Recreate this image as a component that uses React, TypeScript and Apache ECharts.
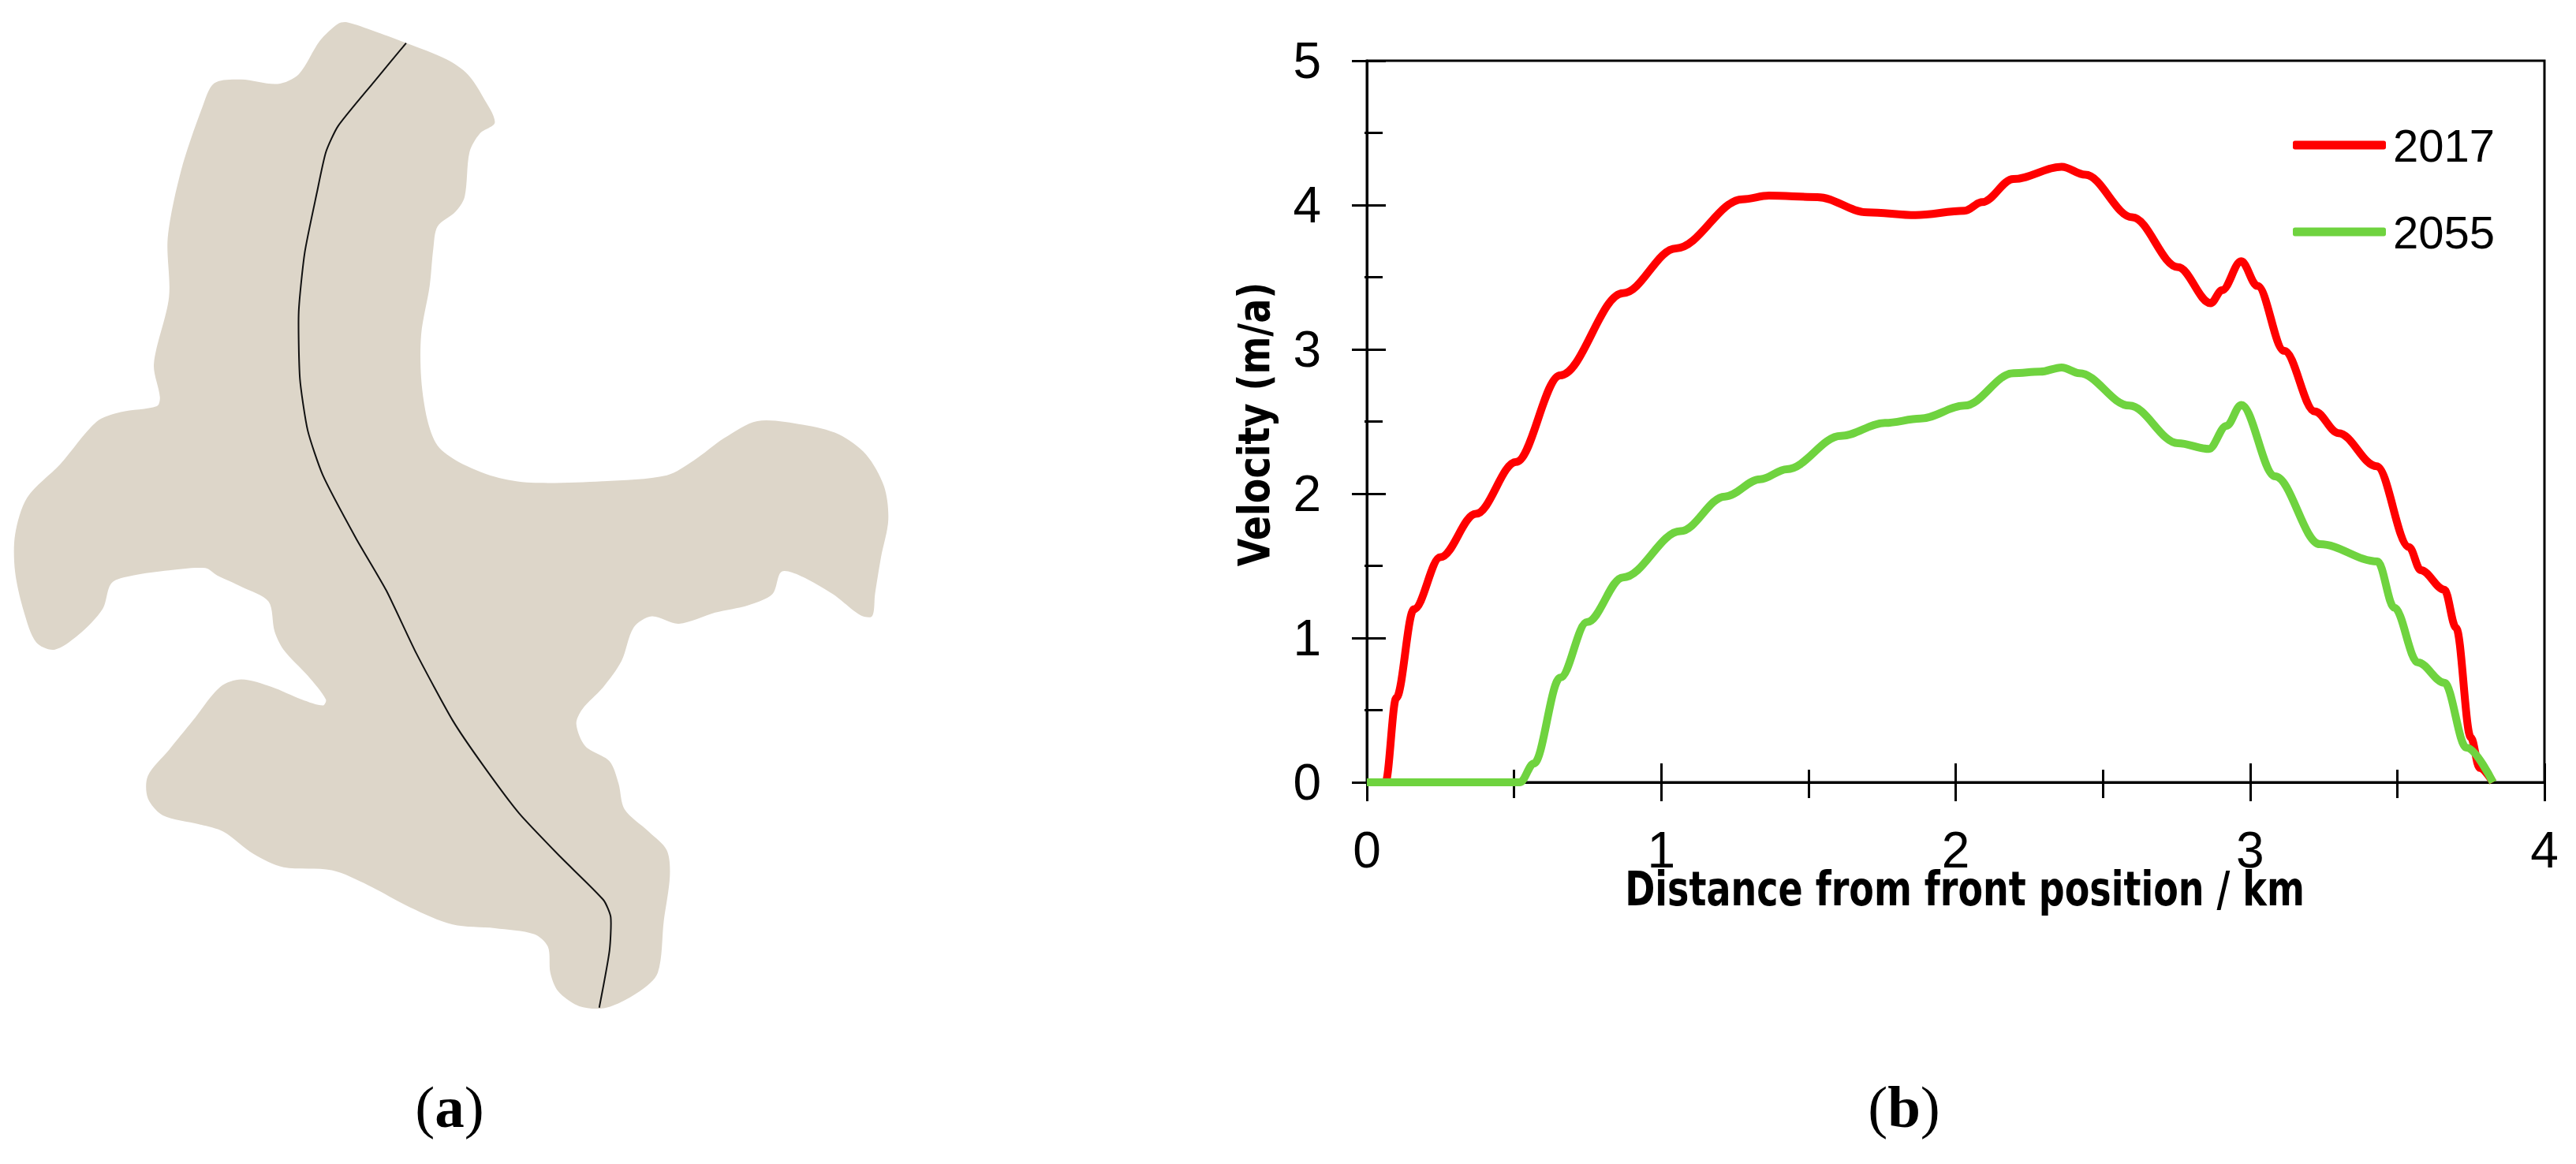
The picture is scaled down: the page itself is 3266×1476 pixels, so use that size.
import React, { useEffect, useRef } from "react";
import * as echarts from "echarts";

const years = ["2017", "2055"];
const distance2017 = [0, 0.063, 0.1, 0.16, 0.25, 0.37, 0.507, 0.657, 0.87, 1.05, 1.276, 1.366, 1.53, 1.7, 1.864, 2.03, 2.09, 2.196, 2.36, 2.44, 2.6, 2.755, 2.866, 2.905, 2.97, 3.025, 3.116, 3.22, 3.3, 3.43, 3.54, 3.58, 3.66, 3.7, 3.75, 3.78, 3.825];
const velocity2017 = [0, 0, 0.586, 1.2, 1.56, 1.86, 2.22, 2.82, 3.39, 3.7, 4.04, 4.065, 4.055, 3.95, 3.93, 3.96, 4.02, 4.18, 4.265, 4.21, 3.915, 3.57, 3.32, 3.41, 3.61, 3.44, 2.99, 2.57, 2.42, 2.19, 1.63, 1.47, 1.335, 1.07, 0.31, 0.1, 0];
const distance2055 = [0, 0.52, 0.567, 0.657, 0.748, 0.87, 1.065, 1.216, 1.336, 1.427, 1.61, 1.76, 1.88, 2.03, 2.196, 2.287, 2.36, 2.42, 2.59, 2.755, 2.86, 2.92, 2.97, 3.085, 3.237, 3.433, 3.49, 3.57, 3.66, 3.735, 3.825];
const velocity2055 = [0, 0, 0.13, 0.725, 1.11, 1.42, 1.74, 1.98, 2.1, 2.17, 2.4, 2.49, 2.52, 2.61, 2.835, 2.845, 2.875, 2.835, 2.61, 2.35, 2.31, 2.47, 2.615, 2.12, 1.65, 1.53, 1.21, 0.83, 0.69, 0.24, 0];

const xTitle = "Distance from front position / km";
const yTitle = "Velocity (m/a)";

// Panel (a) illustration outline, in zoomed-crop units
const outline = [[575,30],[620,42],[673,58],[740,80],[775,100],[800,130],[820,165],[795,180],[778,205],[770,265],[755,285],[725,305],[718,335],[712,385],[698,450],[698,510],[708,565],[725,600],[760,622],[820,642],[880,650],[1000,648],[1105,640],[1150,620],[1200,590],[1255,567],[1330,572],[1390,585],[1435,612],[1465,655],[1472,700],[1460,750],[1450,800],[1445,830],[1425,828],[1380,800],[1325,775],[1295,770],[1280,800],[1240,815],[1185,825],[1125,840],[1080,830],[1050,845],[1030,890],[1000,925],[965,955],[955,975],[970,1005],[1010,1025],[1025,1055],[1035,1090],[1075,1120],[1105,1145],[1110,1180],[1100,1240],[1090,1310],[1060,1335],[1005,1357],[960,1355],[925,1335],[912,1310],[908,1275],[885,1258],[820,1250],[750,1245],[680,1222],[610,1192],[550,1172],[470,1168],[420,1150],[370,1120],[330,1110],[270,1098],[245,1075],[245,1045],[280,1010],[320,970],[365,925],[400,915],[450,925],[500,942],[535,950],[540,942],[510,910],[470,875],[455,850],[445,810],[400,790],[360,775],[340,765],[280,768],[220,775],[185,785],[170,820],[130,855],[90,875],[60,865],[40,825],[25,770],[25,720],[45,670],[100,625],[160,568],[200,555],[260,547],[265,535],[255,490],[280,400],[278,320],[300,230],[335,145],[355,112],[400,107],[460,113],[495,100],[530,55],[560,32]];
const centerLine = [[673,58],[620,110],[560,170],[540,205],[525,260],[505,340],[495,420],[497,510],[510,580],[535,640],[590,725],[640,795],[690,880],[750,970],[800,1030],[860,1095],[930,1155],[1000,1212],[1012,1235],[1010,1280],[993,1357]];

const zip = (a: number[], b: number[]) => a.map((v, i) => [v, b[i]]);
const toPage = (p: number[][]) => p.map(([x, y]) => [x / 1.307, y / 1.062]);

const GRID = { left: 1733, top: 77, width: 1493, height: 915 };
const narrow = "'Liberation Sans Narrow', 'Liberation Sans', sans-serif";
const axisBase = { type: "value" as const, splitLine: { show: false } };

export default function App() {
  const ref = useRef<HTMLDivElement>(null);
  useEffect(() => {
    document.body.style.margin = "0";
    document.body.style.background = "#fff";
    const chart = echarts.init(ref.current!, undefined, { renderer: "svg" });
    const line = { color: "#000", width: 3 };
    chart.setOption({
      animation: false,
      backgroundColor: "#fff",
      grid: [
        { ...GRID, show: true, borderColor: "#000", borderWidth: 3, backgroundColor: "transparent" },
        { ...GRID },
      ],
      xAxis: [
        {
          ...axisBase, gridIndex: 0, min: 0, max: 4, interval: 1,
          axisLine: { show: true, onZero: false, lineStyle: line },
          axisTick: { show: true, length: 24, lineStyle: line },
          minorTick: { show: true, splitNumber: 2, length: 20, lineStyle: line },
          axisLabel: { show: true, margin: 54, fontFamily: narrow, fontSize: 64, color: "#000", showMinLabel: true, showMaxLabel: true },
        },
        {
          ...axisBase, gridIndex: 1, min: 0, max: 4, interval: 1, position: "bottom",
          axisLine: { show: false, onZero: false },
          axisTick: { show: true, inside: true, length: 24, lineStyle: line },
          minorTick: { show: true, splitNumber: 2, length: 16, lineStyle: line },
          axisLabel: { show: false },
        },
      ],
      yAxis: [
        {
          ...axisBase, gridIndex: 0, min: 0, max: 5, interval: 1,
          axisLine: { show: true, onZero: false, lineStyle: line },
          axisTick: { show: true, length: 19, lineStyle: line },
          minorTick: { show: true, splitNumber: 2, length: 3, lineStyle: line },
          axisLabel: { show: true, margin: 58, fontFamily: narrow, fontSize: 64, color: "#000", showMinLabel: true, showMaxLabel: true },
        },
        {
          ...axisBase, gridIndex: 1, min: 0, max: 5, interval: 1, position: "left",
          axisLine: { show: false, onZero: false },
          axisTick: { show: true, inside: true, length: 24, lineStyle: line },
          minorTick: { show: true, splitNumber: 2, length: 20, lineStyle: line },
          axisLabel: { show: false },
        },
      ],
      legend: {
        show: true,
        orient: "vertical",
        left: 2902,
        top: 150,
        itemWidth: 118,
        itemHeight: 11,
        itemGap: 52,
        icon: "roundRect",
        data: years,
        textStyle: { fontFamily: narrow, fontSize: 58, color: "#000", padding: [0, 0, 0, 4] },
      },
      series: [
        {
          name: years[0], type: "line", xAxisIndex: 0, yAxisIndex: 0, data: zip(distance2017, velocity2017),
          smooth: 0.35, smoothMonotone: "x", showSymbol: false, symbol: "none", clip: false,
          lineStyle: { color: "#ff0000", width: 10 }, itemStyle: { color: "#ff0000" },
        },
        {
          name: years[1], type: "line", xAxisIndex: 0, yAxisIndex: 0, data: zip(distance2055, velocity2055),
          smooth: 0.35, smoothMonotone: "x", showSymbol: false, symbol: "none", clip: false,
          lineStyle: { color: "#6fd33f", width: 10 }, itemStyle: { color: "#6fd33f" },
        },
      ],
      graphic: [
        { type: "polygon", shape: { points: toPage(outline), smooth: 0.3 }, style: { fill: "#ddd6c9", stroke: "none" }, silent: true },
        { type: "polyline", shape: { points: toPage(centerLine), smooth: 0.2 }, style: { fill: "none", stroke: "#111", lineWidth: 2 }, silent: true },
        {
          type: "text", x: 570, y: 1403, silent: true,
          style: {
            text: "{r|(}{b|a}{r|)}", textAlign: "center", textVerticalAlign: "middle",
            rich: {
              r: { fontFamily: "'Liberation Serif', serif", fontSize: 75, fill: "#000" },
              b: { fontFamily: "'Liberation Serif', serif", fontSize: 75, fontWeight: "bold", fill: "#000" },
            },
          },
        },
        {
          type: "text", x: 2414, y: 1403, silent: true,
          style: {
            text: "{r|(}{b|b}{r|)}", textAlign: "center", textVerticalAlign: "middle",
            rich: {
              r: { fontFamily: "'Liberation Serif', serif", fontSize: 75, fill: "#000" },
              b: { fontFamily: "'Liberation Serif', serif", fontSize: 75, fontWeight: "bold", fill: "#000" },
            },
          },
        },
        {
          type: "text", x: 2491, y: 1127, scaleY: 1.3, silent: true,
          style: { text: xTitle, textAlign: "center", textVerticalAlign: "middle", fontFamily: "'DejaVu Sans', sans-serif", fontWeight: "bold", fontSize: 46, fill: "#000" },
        },
        {
          type: "text", x: 1590, y: 538, rotation: Math.PI / 2, scaleY: 1.2, silent: true,
          style: { text: yTitle, textAlign: "center", textVerticalAlign: "middle", fontFamily: "'DejaVu Sans', sans-serif", fontWeight: "bold", fontSize: 46, fill: "#000" },
        },
      ],
    });
    return () => chart.dispose();
  }, []);
  return <div ref={ref} style={{ width: 3266, height: 1476 }} />;
}
